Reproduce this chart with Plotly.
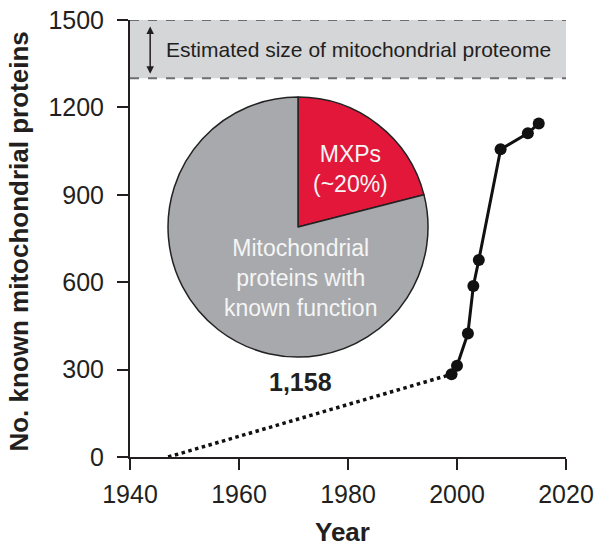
import plotly.graph_objects as go

# ---- data ----
years = [1999, 2000, 2002, 2003, 2004, 2008, 2013, 2015]
known_proteins = [284, 313, 424, 587, 676, 1056, 1111, 1145]
early_years = [1947, 1999]
early_values = [0, 284]
pie_labels = ["MXPs", "Mitochondrial proteins with known function"]
pie_values = [21, 79]
pie_colors = ["#E3173A", "#A7A9AC"]
proteome_low, proteome_high = 1300, 1500
x_ticks = [1940, 1960, 1980, 2000, 2020]
y_ticks = [0, 300, 600, 900, 1200, 1500]

FONT = "Liberation Sans, Arial, Helvetica, sans-serif"
TXT = "#231F20"

fig = go.Figure()

fig.add_trace(go.Scatter(
    x=early_years, y=early_values, mode="lines",
    line=dict(color="#111111", width=3.5, dash="dot"),
    showlegend=False, hoverinfo="skip"))

fig.add_trace(go.Scatter(
    x=years, y=known_proteins, mode="lines+markers",
    line=dict(color="#111111", width=3),
    marker=dict(color="#111111", size=12),
    showlegend=False))

fig.add_trace(go.Pie(
    labels=pie_labels, values=pie_values, sort=False, direction="clockwise",
    rotation=0, textinfo="none", showlegend=False,
    marker=dict(colors=pie_colors, line=dict(color="#222222", width=1.5)),
    domain=dict(x=[0.0872, 0.6835], y=[0.2288, 0.8238])))

# proteome band
fig.add_shape(type="rect", xref="x", yref="y", x0=1940, x1=2020,
              y0=proteome_low, y1=proteome_high,
              fillcolor="#D5D6D8", line=dict(width=0), layer="below")
for yy in (proteome_low, proteome_high):
    fig.add_shape(type="line", xref="x", yref="y", x0=1940, x1=2020,
                  y0=yy, y1=yy, line=dict(color="#6D6E71", width=2, dash="dash"))

C = dict(xanchor="center", yanchor="middle", showarrow=False)
ann = []
ann.append(dict(x=1943.7, y=1478, ax=1943.7, ay=1310, xref="x", yref="y",
                axref="x", ayref="y", showarrow=True, arrowside="end+start",
                arrowhead=2, arrowsize=1, arrowwidth=1.5, arrowcolor="#231F20", text=""))
ann.append(dict(x=1946.3, y=1400, xref="x", yref="y", xanchor="left", yanchor="middle",
                text="Estimated size of mitochondrial proteome", showarrow=False,
                font=dict(family=FONT, size=21, color=TXT)))
ann.append(dict(x=0.5046, y=0.659, xref="paper", yref="paper",
                text="MXPs<br>(~20%)", font=dict(family=FONT, size=23, color="#F5F5F5"), **C))
ann.append(dict(x=0.39, y=0.4096, xref="paper", yref="paper",
                text="Mitochondrial<br>proteins with<br>known function",
                font=dict(family=FONT, size=23, color="#F5F5F5"), **C))
ann.append(dict(x=0.39, y=0.1716, xref="paper", yref="paper",
                text="<b>1,158</b>", font=dict(family=FONT, size=25, color=TXT), **C))
ann.append(dict(x=-0.2546, y=0.493, xref="paper", yref="paper",
                textangle=-90, text="<b>No. known mitochondrial proteins</b>",
                font=dict(family=FONT, size=26, color=TXT), **C))
ann.append(dict(x=0.4885, y=-0.172, xref="paper", yref="paper",
                text="<b>Year</b>", font=dict(family=FONT, size=26, color=TXT), **C))

fig.update_layout(
    width=600, height=546,
    margin=dict(l=130, r=34, t=20, b=89, autoexpand=False),
    paper_bgcolor="white", plot_bgcolor="white",
    annotations=ann,
    font=dict(family=FONT, color=TXT),
)
fig.update_xaxes(range=[1940, 2020], tickvals=x_ticks, showgrid=False, zeroline=False,
                 showline=True, linecolor="#231F20", linewidth=2, automargin=False,
                 ticks="outside", ticklen=11, tickwidth=1.5, tickcolor="#231F20",
                 ticklabelstandoff=3, tickfont=dict(family=FONT, size=25, color=TXT))
fig.update_yaxes(range=[0, 1500], tickvals=y_ticks, showgrid=False, zeroline=False,
                 showline=True, linecolor="#231F20", linewidth=2, automargin=False,
                 ticks="outside", ticklen=11, tickwidth=1.5, tickcolor="#231F20",
                 ticklabelstandoff=8, tickfont=dict(family=FONT, size=25, color=TXT))

fig.write_html("out.html", config={"displayModeBar": False},
               post_script="document.body.style.margin='0';document.body.style.overflow='hidden';")
